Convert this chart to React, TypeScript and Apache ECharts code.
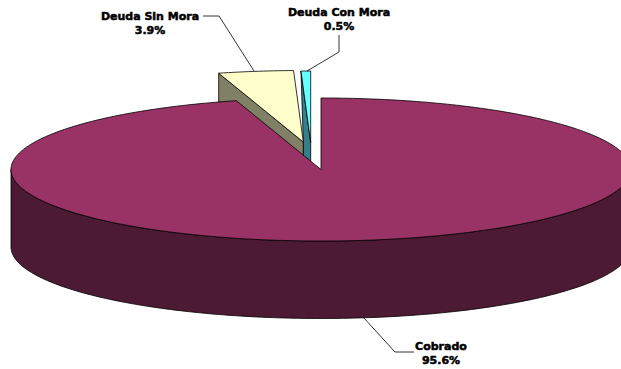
import React, { useEffect, useRef } from "react";
import * as echarts from "echarts";

// Share of the portfolio, in percent, clockwise from twelve o'clock.
const sliceNames = ["Cobrado", "Deuda Sin Mora", "Deuda Con Mora"];
const sliceValues = [95.6, 3.9, 0.5];

const topColors = ["#993366", "#FFFFCC", "#66FFFF"];
const wallColors = ["#4D1A33", "#808066", "#33808A"];

// How far each slice is pulled away from the pie centre.
const explodeOffsets = [
  [0, 0],
  [-17.7, -27.5],
  [-10.3, -27],
];

const pie = { cx: 321, cy: 169.5, rx: 310, ry: 71.5, depth: 77.5 };

// Label centre and leader line for each slice.
const labelCentres = [
  [441, 339],
  [150, 9],
  [339, 5],
];
const leaderLines = [
  [[363, 317], [395, 352], [414, 352]],
  [[203, 16], [219, 16], [254, 71]],
  [[339, 35], [339, 52], [307, 71]],
];

const LINE = "#000000";

function rimPoint(cx: number, cy: number, deg: number): number[] {
  const a = (deg * Math.PI) / 180;
  return [cx + pie.rx * Math.sin(a), cy - pie.ry * Math.cos(a)];
}

function rimArc(cx: number, cy: number, from: number, to: number): number[][] {
  const steps = Math.max(4, Math.ceil(Math.abs(to - from)));
  const pts: number[][] = [];
  for (let i = 0; i <= steps; i++) pts.push(rimPoint(cx, cy, from + ((to - from) * i) / steps));
  return pts;
}

function sliceAngles(): number[][] {
  const total = sliceValues.reduce((s, v) => s + v, 0);
  let start = 0;
  return sliceValues.map((v) => {
    const end = start + (v / total) * 360;
    const pair = [start, end];
    start = end;
    return pair;
  });
}

function polygon(points: number[][], fill: string) {
  return {
    type: "polygon",
    shape: { points },
    style: { fill, stroke: LINE, lineWidth: 0.8, lineJoin: "round" },
  };
}

// Each slice is a group of side walls and a flat elliptical top; the slices
// are painted back to front, so the big slice overlaps the pulled-out ones.
function renderSlice(params: any, api: any) {
  const idx = api.value(0) as number;
  const [from, to] = sliceAngles()[idx];
  const [dx, dy] = explodeOffsets[idx];
  const cx = pie.cx + dx;
  const cy = pie.cy + dy;
  const d = pie.depth;
  const children: any[] = [];
  const top = [[cx, cy], ...rimArc(cx, cy, from, to)];

  if (idx === 0) {
    const front = rimArc(cx, cy, 90, 270);
    const lower = front.map(([x, y]) => [x, y + d]).reverse();
    children.push(polygon([...front, ...lower], wallColors[0]));
  } else if (idx === 1) {
    const outer = rimPoint(cx, cy, from);
    children.push(
      polygon([outer, [cx, cy], [cx, cy + d], [outer[0], outer[1] + d]], wallColors[1]),
    );
  } else {
    // The cut face of the thin slice tucks in behind its neighbour's tip.
    const outer = rimPoint(cx, cy, from);
    const nx = pie.cx + explodeOffsets[1][0];
    const ny = pie.cy + explodeOffsets[1][1];
    children.push(
      polygon([outer, [cx, cy], [cx, cy + d], [nx, ny + d], [nx, ny]], wallColors[2]),
    );
  }
  children.push(polygon(top, topColors[idx]));
  return { type: "group", children };
}

export default function App() {
  const ref = useRef<HTMLDivElement>(null);

  useEffect(() => {
    const chart = echarts.init(ref.current!, undefined, { renderer: "svg" });
    const paintOrder = [2, 1, 0];
    chart.setOption({
      animation: false,
      backgroundColor: "#ffffff",
      series: [
        {
          type: "custom",
          coordinateSystem: "none",
          renderItem: renderSlice,
          data: paintOrder.map((i) => [i, sliceValues[i]]),
          encode: { value: [1] },
          silent: true,
        },
      ],
      graphic: {
        elements: [
          ...leaderLines.map((points) => ({
            type: "polyline",
            z: 10,
            shape: { points },
            style: { fill: "none", stroke: LINE, lineWidth: 0.8 },
          })),
          ...sliceNames.map((name, i) => ({
            type: "text",
            z: 11,
            x: labelCentres[i][0],
            y: labelCentres[i][1],
            style: {
              text: `${name}\n${sliceValues[i].toFixed(1)}%`,
              fill: "#000000",
              stroke: "#000000",
              lineWidth: 0.5,
              align: "center",
              verticalAlign: "top",
              font: 'bold 11px "DejaVu Sans", Verdana, sans-serif',
              lineHeight: 14,
            },
          })),
        ],
      },
    });
    return () => chart.dispose();
  }, []);

  return (
    <div
      ref={ref}
      style={{ position: "absolute", left: 0, top: 0, width: 621, height: 369 }}
    />
  );
}
